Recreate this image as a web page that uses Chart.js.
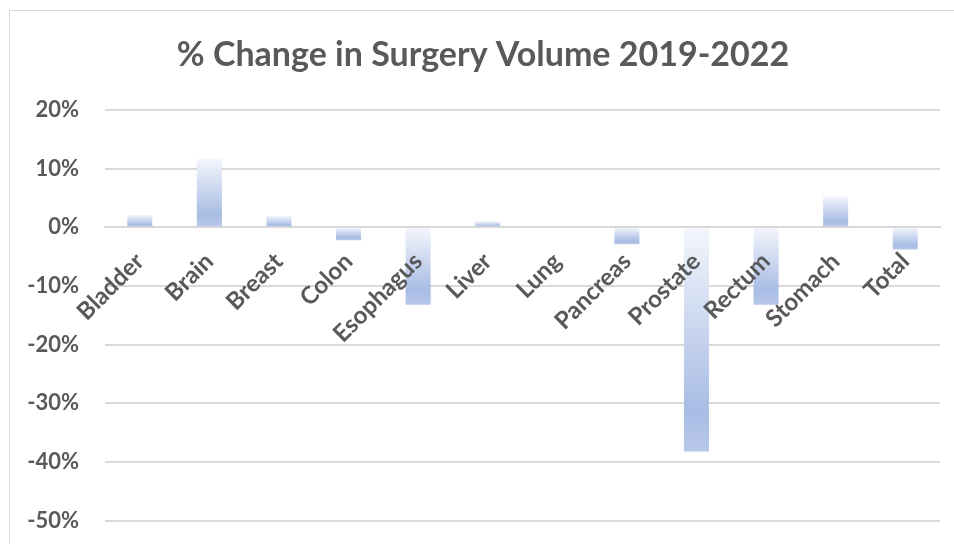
<!DOCTYPE html>
<html>
<head>
<meta charset="utf-8">
<script src="https://cdn.jsdelivr.net/npm/chart.js@4"></script>
<style>
  html, body { margin: 0; padding: 0; background: #fff; overflow: hidden; }
  #frame { position: absolute; left: 9px; top: 10px; width: 960px; height: 580px; border: 1px solid #d9d9d9; }
  #wrap { position: absolute; left: 0; top: 0; width: 944px; height: 549px; }
</style>
</head>
<body>
<div id="frame"><div id="wrap"><canvas id="chartcnv"></canvas></div></div>
<script>
var categories = ["Bladder", "Brain", "Breast", "Colon", "Esophagus", "Liver", "Lung", "Pancreas", "Prostate", "Rectum", "Stomach", "Total"];
var pctChange = [2.1, 11.6, 1.9, -2.2, -13.2, 1.0, 0, -2.9, -38.2, -13.2, 5.2, -3.8];
var yTicks = [20, 10, 0, -10, -20, -30, -40, -50];
var yTickLabels = ["20%", "10%", "0%", "-10%", "-20%", "-30%", "-40%", "-50%"];

var textColor = '#595959';
var gridColor = '#d9d9d9';

var barFill = function(context) {
  var chart = context.chart;
  if (!chart.chartArea) return '#a8bce4';
  var y = chart.scales.y;
  var v = context.raw;
  var p0 = y.getPixelForValue(0);
  var p1 = y.getPixelForValue(v);
  var top = Math.min(p0, p1), bottom = Math.max(p0, p1);
  if (bottom - top < 1) bottom = top + 1;
  var g = chart.ctx.createLinearGradient(0, top, 0, bottom);
  g.addColorStop(0, '#f3f6fc');
  g.addColorStop(0.82, '#a8bce4');
  g.addColorStop(1, '#b8c8ea');
  return g;
};

const ctx = document.getElementById("chartcnv").getContext('2d');
const myChart = new Chart(ctx, {
  type: 'bar',
  data: {
    labels: categories,
    datasets: [{
      label: '% Change',
      data: pctChange,
      backgroundColor: barFill,
      borderWidth: 0,
      barPercentage: 0.36,
      categoryPercentage: 1.0
    }]
  },
  options: {
    responsive: true,
    maintainAspectRatio: false,
    animation: false,
    layout: {
      padding: { left: 16, right: 14, top: 0, bottom: 9 }
    },
    plugins: {
      legend: { display: false },
      tooltip: { enabled: false },
      title: {
        display: true,
        text: '% Change in Surgery Volume 2019-2022',
        color: textColor,
        font: { family: 'Lato', size: 34, weight: 'bold' },
        padding: { top: 24, bottom: 34 }
      }
    },
    scales: {
      x: {
        position: { y: 0 },
        grid: { display: false, drawTicks: false },
        border: { display: true, color: gridColor, width: 2 },
        ticks: {
          z: 1,
          color: textColor,
          font: { family: 'Lato', size: 24, weight: 'bold' },
          minRotation: 45,
          maxRotation: 45,
          autoSkip: false,
          padding: 20
        }
      },
      y: {
        min: -50,
        max: 20,
        afterBuildTicks: function(scale) {
          scale.ticks = yTicks.map(function(v) { return { value: v }; });
        },
        // fixed width so the plot starts where the reference does
        afterFit: function(scale) { scale.width = 79; },
        grid: { color: gridColor, lineWidth: 2, drawTicks: false },
        border: { display: false },
        ticks: {
          color: textColor,
          font: { family: 'Lato', size: 22, weight: 'bold' },
          padding: 26,
          callback: function(v, i) { return yTickLabels[i]; }
        }
      }
    }
  }
});
</script>
</body>
</html>
